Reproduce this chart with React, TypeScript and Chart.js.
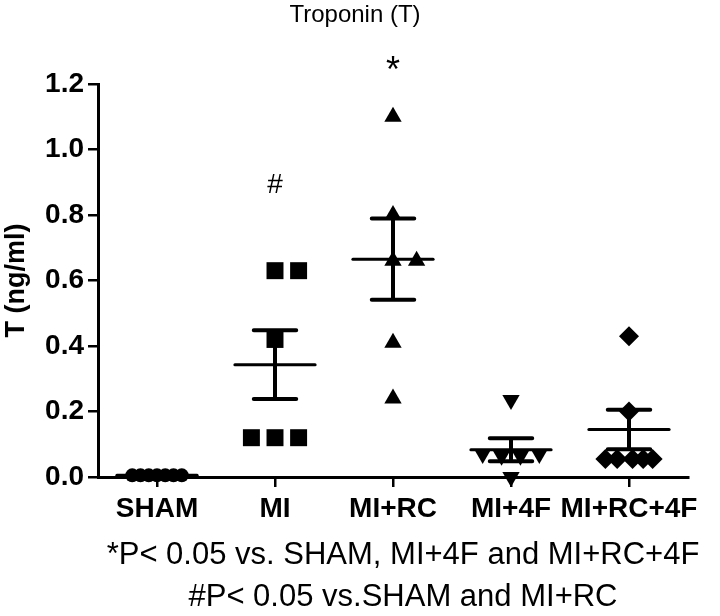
import React, { useEffect, useRef } from "react";
import { Chart, registerables } from "chart.js";

Chart.register(...registerables);

const categories = ["SHAM", "MI", "MI+RC", "MI+4F", "MI+RC+4F"];

const shamValues = [0.005, 0.005, 0.005, 0.005, 0.005, 0.005, 0.005];
const shamJitter = [-0.21, -0.14, -0.07, 0, 0.07, 0.14, 0.21];
const miValues = [0.63, 0.63, 0.42, 0.12, 0.12, 0.12];
const miJitter = [0, 0.2, 0, -0.2, 0, 0.2];
const miRcValues = [1.1, 0.8, 0.66, 0.66, 0.41, 0.24];
const miRcJitter = [0, 0, 0, 0.2, 0, 0];
const mi4fValues = [0.235, 0.07, 0.065, 0.065, 0.07, 0.0];
const mi4fJitter = [0, -0.24, -0.08, 0.08, 0.24, 0];
const miRc4fValues = [0.43, 0.2, 0.055, 0.055, 0.055, 0.055, 0.055];
const miRc4fJitter = [0, 0, -0.2, -0.1, 0.03, 0.12, 0.2];

const means = [0.005, 0.343, 0.665, 0.083, 0.145];
const sems = [0.003, 0.105, 0.124, 0.035, 0.06];

const yTicks = [0, 0.2, 0.4, 0.6, 0.8, 1.0, 1.2];

const sigMarks = ["", "#", "*", "", ""];
const sigValues = [null, 0.89, 1.235, null, null];

const titleText = "Troponin (T)";
const yTitleText = "T (ng/ml)";
const footnotes = [
  "*P< 0.05 vs. SHAM, MI+4F and MI+RC+4F",
  "#P< 0.05 vs.SHAM and MI+RC",
];

const FONT = "'Liberation Sans', Arial, Helvetica, sans-serif";

function pts(values: number[], jitter: number[], cat: number) {
  return values.map((v, i) => ({ x: cat + jitter[i], y: v }));
}

const overlayPlugin = {
  id: "overlay",
  afterDatasetsDraw(chart: any) {
    const ctx = chart.ctx;
    const xs = chart.scales.x;
    const ys = chart.scales.y;
    ctx.save();
    ctx.strokeStyle = "#000";
    ctx.lineCap = "round";
    means.forEach((m, i) => {
      const xc = xs.getPixelForValue(i);
      const xl = xs.getPixelForValue(i - 0.34);
      const xr = xs.getPixelForValue(i + 0.34);
      const cl = xs.getPixelForValue(i - 0.18);
      const cr = xs.getPixelForValue(i + 0.18);
      const ym = ys.getPixelForValue(m);
      const yu = ys.getPixelForValue(m + sems[i]);
      const yl = ys.getPixelForValue(m - sems[i]);
      ctx.lineWidth = 3;
      ctx.beginPath();
      ctx.moveTo(xl, ym);
      ctx.lineTo(xr, ym);
      ctx.stroke();
      ctx.lineWidth = 4;
      ctx.beginPath();
      ctx.moveTo(xc, yu);
      ctx.lineTo(xc, yl);
      ctx.moveTo(cl, yu);
      ctx.lineTo(cr, yu);
      ctx.moveTo(cl, yl);
      ctx.lineTo(cr, yl);
      ctx.stroke();
    });
    ctx.fillStyle = "#000";
    ctx.textAlign = "center";
    ctx.textBaseline = "middle";
    sigMarks.forEach((mk, i) => {
      const v = sigValues[i];
      if (!mk || v === null) return;
      ctx.font = (mk === "*" ? "36px " : "28px ") + FONT;
      ctx.fillText(mk, xs.getPixelForValue(i), ys.getPixelForValue(v));
    });
    ctx.restore();
  },
  afterDraw(chart: any) {
    const ctx = chart.ctx;
    const area = chart.chartArea;
    const cx = (area.left + area.right) / 2;
    ctx.save();
    ctx.fillStyle = "#000";
    ctx.textAlign = "center";
    ctx.textBaseline = "middle";
    ctx.font = "24px " + FONT;
    ctx.fillText(titleText, cx - 38, 15);
    ctx.font = "31px " + FONT;
    ctx.fillText(footnotes[0], cx + 10, 555);
    ctx.fillText(footnotes[1], cx + 10, 597);
    ctx.restore();
  },
};

export default function App() {
  const ref = useRef<HTMLCanvasElement | null>(null);
  useEffect(() => {
    if (!ref.current) return;
    const common = {
      backgroundColor: "#000",
      borderColor: "#000",
      borderWidth: 0,
      clip: false as any,
      showLine: false,
    };
    const chart = new Chart(ref.current, {
      type: "scatter",
      data: {
        datasets: [
          { ...common, label: categories[0], data: pts(shamValues, shamJitter, 0), pointStyle: "circle", pointRadius: 7 },
          { ...common, label: categories[1], data: pts(miValues, miJitter, 1), pointStyle: "rect", pointRadius: 12 },
          { ...common, label: categories[2], data: pts(miRcValues, miRcJitter, 2), pointStyle: "triangle", pointRadius: 10 },
          { ...common, label: categories[3], data: pts(mi4fValues, mi4fJitter, 3), pointStyle: "triangle", pointRotation: 180, pointRadius: 10 },
          { ...common, label: categories[4], data: pts(miRc4fValues, miRc4fJitter, 4), pointStyle: "rectRot", pointRadius: 10 },
        ] as any,
      },
      options: {
        responsive: false,
        animation: false,
        events: [],
        layout: { padding: { left: 0, right: 32, top: 84, bottom: 89 } },
        plugins: {
          legend: { display: false },
          tooltip: { enabled: false },
          title: { display: false },
        },
        scales: {
          x: {
            type: "linear",
            min: -0.5,
            max: 4.5,
            afterBuildTicks: (s: any) => {
              s.ticks = categories.map((_, i) => ({ value: i }));
            },
            afterFit: (s: any) => {
              s.height = 50;
            },
            ticks: {
              callback: (v: any) => categories[Math.round(Number(v))] ?? "",
              color: "#000",
              font: { family: FONT, size: 28, weight: "bold" },
              padding: 5,
              maxRotation: 0,
              autoSkip: false,
            },
            grid: {
              drawOnChartArea: false,
              drawTicks: true,
              tickLength: 10,
              color: "#000",
              lineWidth: 2.5,
            },
            border: { color: "#000", width: 3 },
          },
          y: {
            min: 0,
            max: 1.2,
            afterBuildTicks: (s: any) => {
              s.ticks = yTicks.map((v) => ({ value: v }));
            },
            afterFit: (s: any) => {
              s.width = 98;
            },
            ticks: {
              callback: (v: any) => Number(v).toFixed(1),
              color: "#000",
              font: { family: FONT, size: 28, weight: "bold" },
              padding: 4,
            },
            grid: {
              drawOnChartArea: false,
              drawTicks: true,
              tickLength: 10,
              color: "#000",
              lineWidth: 2.5,
            },
            border: { color: "#000", width: 3 },
            title: {
              display: true,
              text: yTitleText,
              color: "#000",
              font: { family: FONT, size: 27, weight: "bold" },
              padding: 0,
            },
          },
        },
      },
      plugins: [overlayPlugin],
    } as any);
    return () => chart.destroy();
  }, []);
  return (
    <div style={{ position: "fixed", left: 0, top: 0, width: 720, height: 616, background: "#fff" }}>
      <canvas ref={ref} width={720} height={616} style={{ width: 720, height: 616 }} />
    </div>
  );
}
